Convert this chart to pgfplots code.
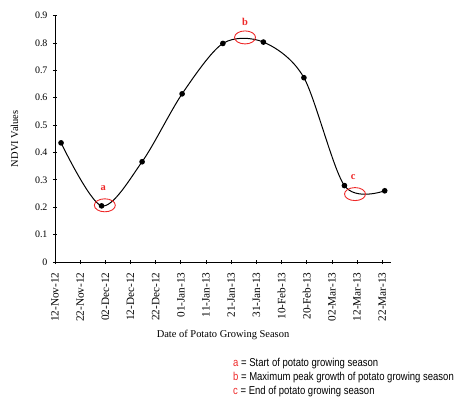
\documentclass[border=0pt]{standalone}
\usepackage{pgfplots}
\pgfplotsset{compat=1.18}
\usepackage{fontspec}
\setmainfont{Liberation Serif}
\newfontfamily\legfont{Liberation Sans}
\definecolor{annred}{RGB}{238,40,40}
\begin{document}
\begin{tikzpicture}
\path[use as bounding box] (-55bp,-136bp) rectangle (401bp,246.5bp+15.5bp);
\begin{axis}[
  scale only axis,
  width=336bp, height=246.5bp,
  anchor=south west, at={(0,0)},
  axis lines=left,
  axis line style={-, line width=0.9pt},
  xmin=0, xmax=133.5,
  ymin=0, ymax=0.9,
  xtick={0,10,...,130},
  xticklabels={12-Nov-12,22-Nov-12,02-Dec-12,12-Dec-12,22-Dec-12,01-Jan-13,11-Jan-13,21-Jan-13,31-Jan-13,10-Feb-13,20-Feb-13,02-Mar-13,12-Mar-13,22-Mar-13},
  x tick label style={rotate=90, anchor=east, font=\fontsize{11.3}{12}\selectfont},
  xticklabel shift={5bp},
  ytick={0,0.1,...,0.9},
  y tick label style={font=\fontsize{10}{11}\selectfont, /pgf/number format/fixed, /pgf/number format/precision=1},
  yticklabel shift={2bp},
  /pgf/number format/assume math mode=true,
  tick style={black, line width=0.7pt},
  major tick length=4bp,
  xlabel={Date of Potato Growing Season},
  ylabel={NDVI Values},
  label style={font=\fontsize{10.5}{12}\selectfont},
  xlabel style={yshift=-1bp},
  ylabel style={yshift=10bp},
  clip=false,
]
\addplot[black, line width=1pt, smooth, mark=*, mark size=2.3pt] coordinates {
(2.4,0.435) (18.5,0.205) (34.6,0.366) (50.5,0.614) (66.7,0.798) (82.8,0.803) (98.9,0.673) (115.0,0.279) (131.0,0.260)
};
\draw[annred, line width=0.9pt] (axis cs:19.8,0.207) ellipse [x radius=10.5bp, y radius=6.5bp];
\draw[annred, line width=0.9pt] (axis cs:75.5,0.820) ellipse [x radius=10.5bp, y radius=6.5bp];
\draw[annred, line width=0.9pt] (axis cs:119.2,0.248) ellipse [x radius=10.5bp, y radius=6.5bp];
\node[annred, font=\fontsize{10.5}{12}\selectfont\bfseries] at (axis cs:19.2,0.270) {a};
\node[annred, font=\fontsize{10.5}{12}\selectfont\bfseries] at (axis cs:75.5,0.877) {b};
\node[annred, font=\fontsize{10.5}{12}\selectfont\bfseries] at (axis cs:118.5,0.310) {c};
\end{axis}
\begin{scope}[every node/.style={anchor=west, inner sep=0pt, font=\legfont\fontsize{11.5}{12}\selectfont, xscale=0.83}]
\node at (178bp,-102bp) {\textcolor{annred}{a} = Start of potato growing season};
\node at (178bp,-116bp) {\textcolor{annred}{b} = Maximum peak growth of potato growing season};
\node at (178bp,-130bp) {\textcolor{annred}{c} = End of potato growing season};
\end{scope}
\end{tikzpicture}
\end{document}
